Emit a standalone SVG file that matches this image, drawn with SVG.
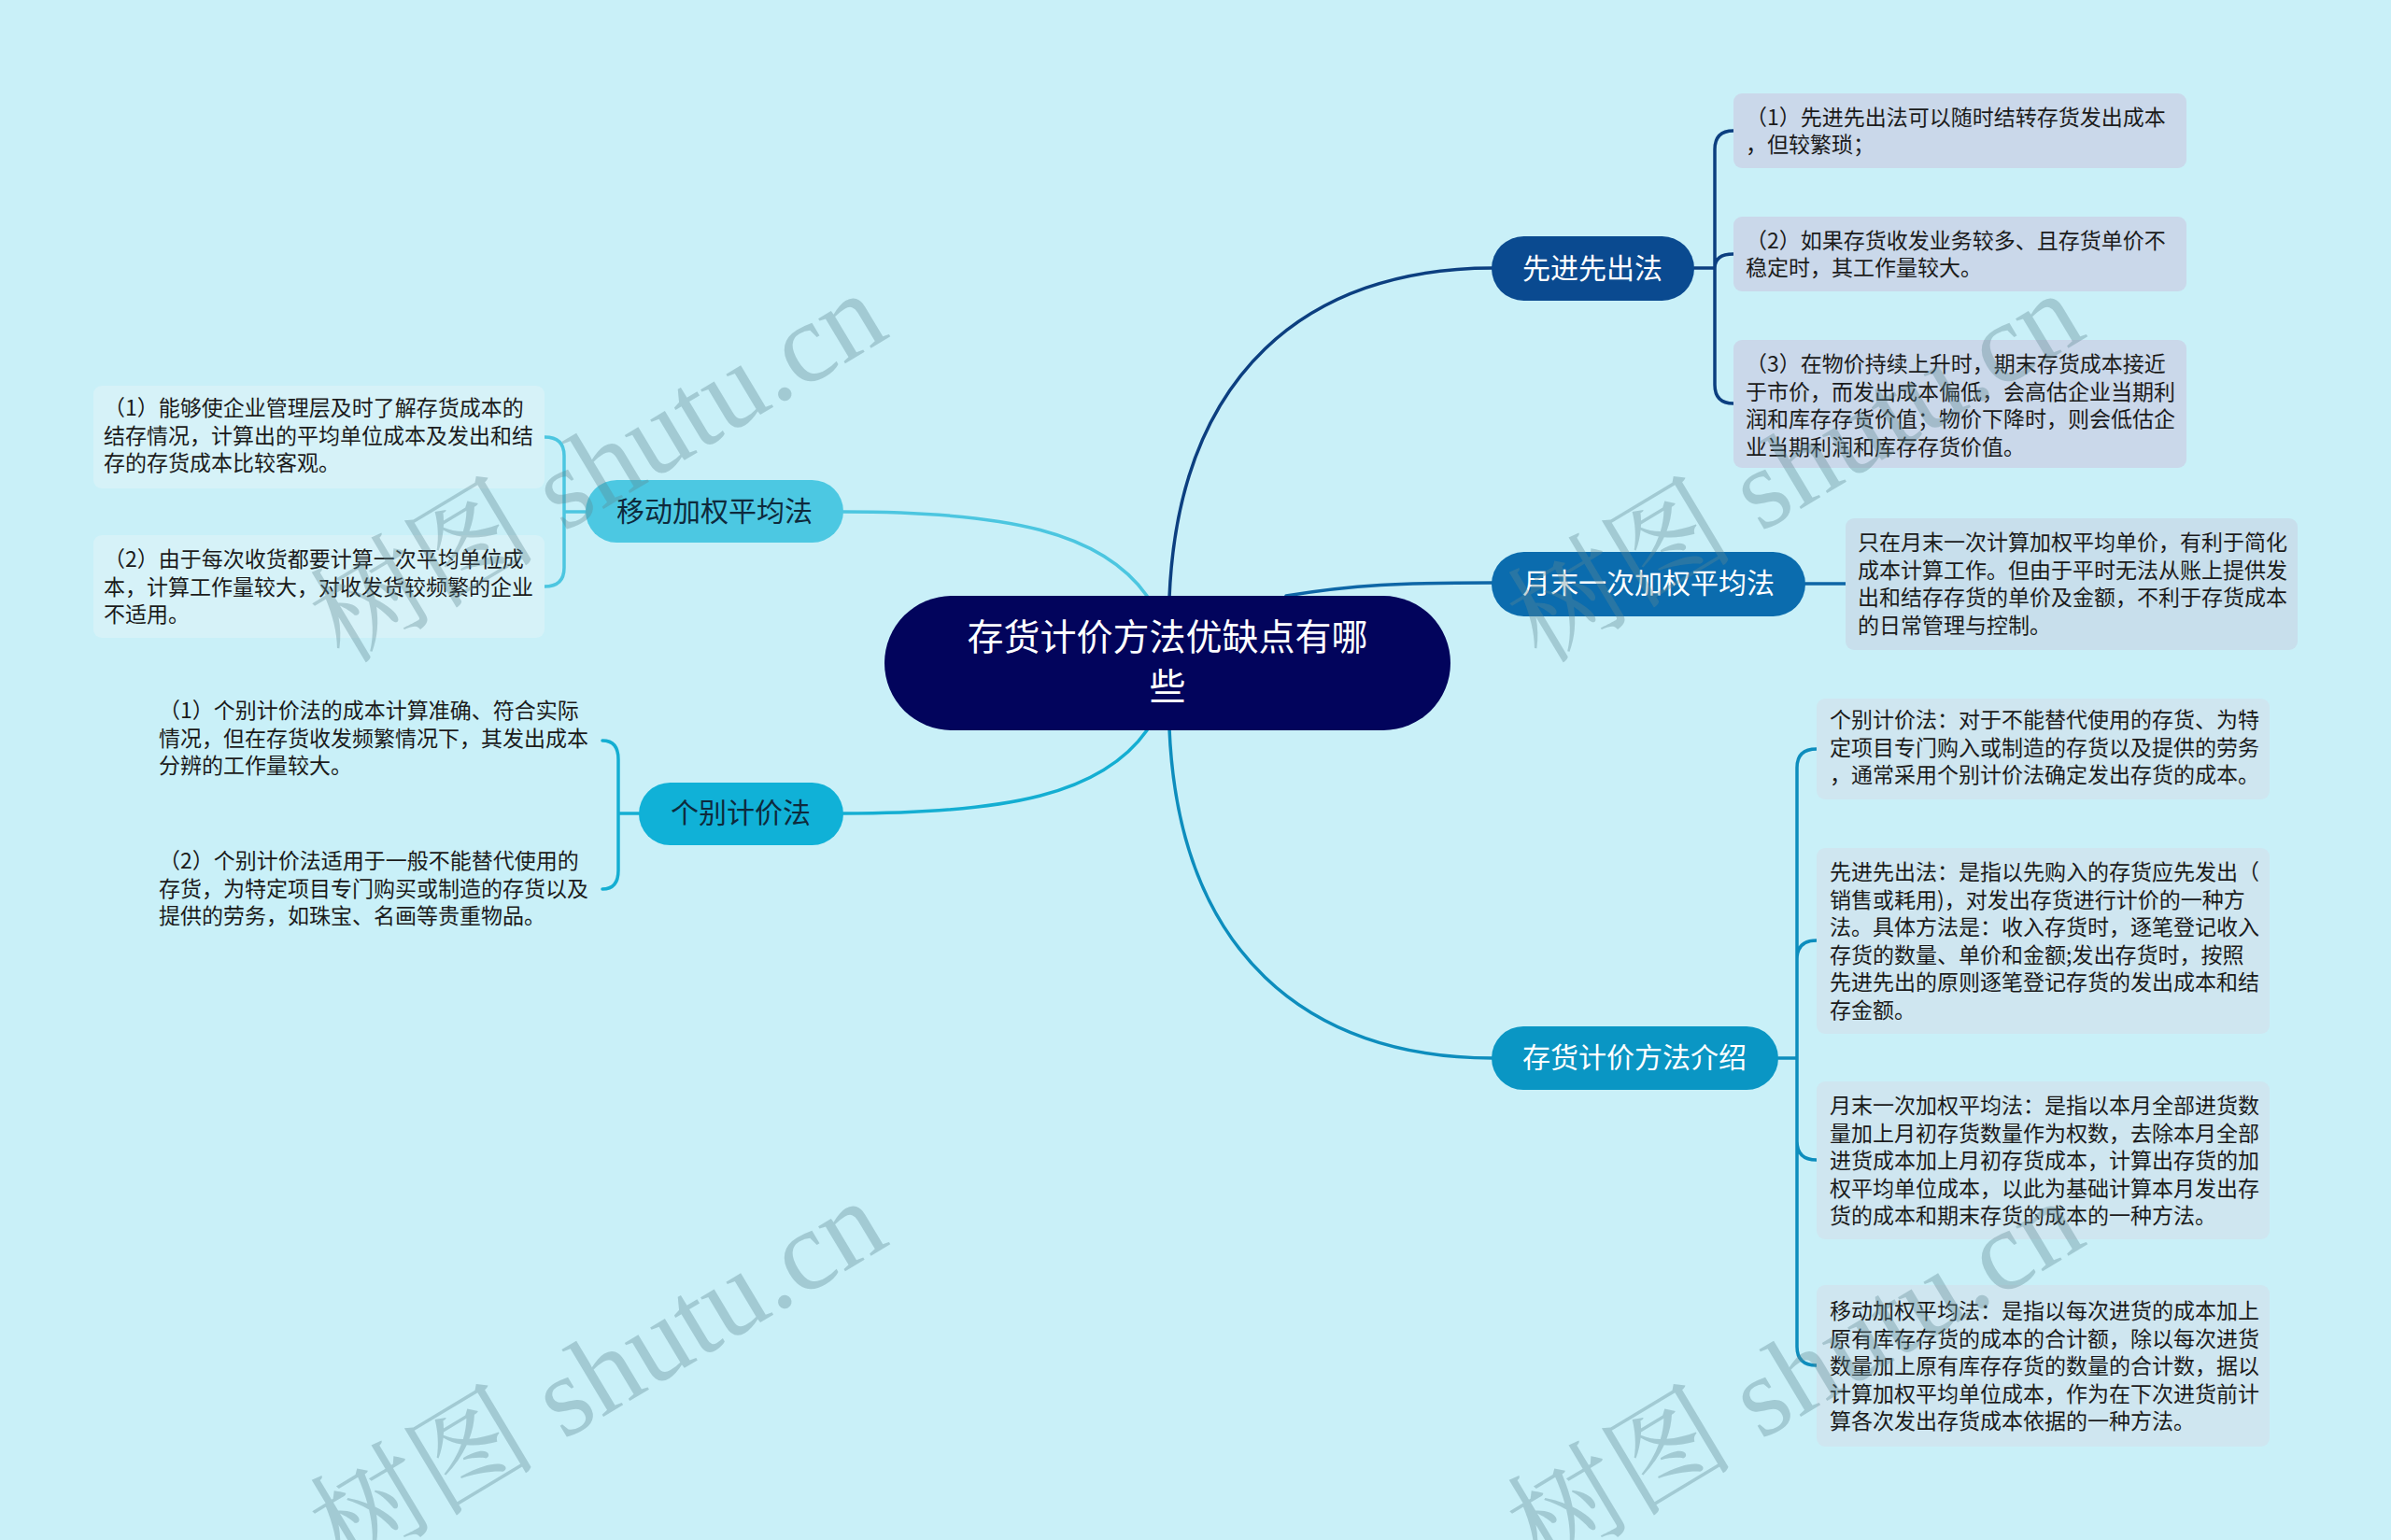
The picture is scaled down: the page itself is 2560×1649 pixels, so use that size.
<svg xmlns="http://www.w3.org/2000/svg" width="2560" height="1649" viewBox="0 0 2560 1649">
<style>
text{font-family:"Noto Sans CJK SC","Noto Sans",sans-serif;}
.leaf{font-size:23px;fill:#1b1b1b;}
.nt{font-size:30px;text-anchor:middle;}
.w{fill:#ffffff;}
.d{fill:#0e2a3c;}
.c{fill:none;stroke-width:3.5;stroke-linecap:round;}
.wm{font-family:"Liberation Serif","Noto Serif CJK SC","Noto Sans CJK SC",serif;font-size:122px;fill:#5d8792;fill-opacity:0.36;}
</style>
<rect x="0" y="0" width="2560" height="1649" fill="#c9f0f8"/>

<g id="connectors">
<path class="c" stroke="#0c3f80" d="M1252,640 C1262,400 1400,287 1598,287"/>
<path class="c" stroke="#0e66a6" d="M1377,638 C1450,626 1500,624 1598,624"/>
<path class="c" stroke="#0d8dbd" d="M1252,780 C1262,1020 1400,1133 1598,1133"/>
<path class="c" stroke="#4cc6e0" d="M1228,638 C1180,570 1080,548 903,548"/>
<path class="c" stroke="#14aed2" d="M1228,782 C1180,850 1080,871 903,871"/>
<path class="c" stroke="#0c3f80" d="M1814,287 H1836 M1836,287 V160 Q1836,140 1856,140 M1836,287 Q1836,272 1856,272 M1836,287 V412 Q1836,432 1856,432"/>
<path class="c" stroke="#0e66a6" d="M1933,625 H1976"/>
<path class="c" stroke="#0d8dbd" d="M1904,1133 H1924 M1924,1133 V822 Q1924,802 1945,802 M1924,1133 V1027 Q1924,1007 1945,1007 M1924,1133 V1222 Q1924,1242 1945,1242 M1924,1133 V1442 Q1924,1462 1945,1462"/>
<path class="c" stroke="#4cc6e0" d="M627,548 H604 M604,548 V488 Q604,468 583,468 M604,548 V608 Q604,628 583,628"/>
<path class="c" stroke="#14aed2" d="M684,871 H662 M662,871 V813 Q662,793 645,793 M662,871 V932 Q662,952 645,952"/>
</g>

<g id="root">
<rect x="947" y="638" width="606" height="144" rx="72" fill="#02045c"/>
<text x="1250" y="696" text-anchor="middle" font-size="39" class="w">存货计价方法优缺点有哪</text>
<text x="1250" y="749" text-anchor="middle" font-size="39" class="w">些</text>
</g>

<g id="n-fifo">
<rect x="1597" y="253" width="217" height="69" rx="34.5" fill="#0a4a90"/>
<text x="1705" y="298" class="nt w">先进先出法</text>
</g>
<g id="n-monthly">
<rect x="1597" y="591" width="336" height="69" rx="34.5" fill="#0b6cae"/>
<text x="1765" y="635" class="nt w">月末一次加权平均法</text>
</g>
<g id="n-intro">
<rect x="1597" y="1099" width="307" height="68" rx="34" fill="#0a96c4"/>
<text x="1750" y="1143" class="nt w">存货计价方法介绍</text>
</g>
<g id="n-moving">
<rect x="627" y="514" width="276" height="67" rx="33.5" fill="#4cc8e2"/>
<text x="765" y="558" class="nt d">移动加权平均法</text>
</g>
<g id="n-specific">
<rect x="684" y="838" width="219" height="67" rx="33.5" fill="#10b1d7"/>
<text x="793" y="881" class="nt d">个别计价法</text>
</g>

<g id="fifo-1">
<rect x="1856" y="100" width="485" height="80" rx="9" fill="#cad8ea"/>
<text class="leaf" x="1869" y="134">（1）先进先出法可以随时结转存货发出成本</text>
<text class="leaf" x="1869" y="163">，但较繁琐；</text>
</g>
<g id="fifo-2">
<rect x="1856" y="232" width="485" height="80" rx="9" fill="#cad8ea"/>
<text class="leaf" x="1869" y="266">（2）如果存货收发业务较多、且存货单价不</text>
<text class="leaf" x="1869" y="295">稳定时，其工作量较大。</text>
</g>
<g id="fifo-3">
<rect x="1856" y="364" width="485" height="137" rx="9" fill="#cad8ea"/>
<text class="leaf" x="1869" y="398">（3）在物价持续上升时，期末存货成本接近</text>
<text class="leaf" x="1869" y="427.5">于市价，而发出成本偏低，会高估企业当期利</text>
<text class="leaf" x="1869" y="457">润和库存存货价值；物价下降时，则会低估企</text>
<text class="leaf" x="1869" y="486.5">业当期利润和库存存货价值。</text>
</g>

<g id="monthly-1">
<rect x="1976" y="555" width="484" height="141" rx="9" fill="#c8dfec"/>
<text class="leaf" x="1989" y="589">只在月末一次计算加权平均单价，有利于简化</text>
<text class="leaf" x="1989" y="618.5">成本计算工作。但由于平时无法从账上提供发</text>
<text class="leaf" x="1989" y="648">出和结存存货的单价及金额，不利于存货成本</text>
<text class="leaf" x="1989" y="677.5">的日常管理与控制。</text>
</g>

<g id="intro-a">
<rect x="1945" y="748" width="485" height="108" rx="9" fill="#cfe6f0"/>
<text class="leaf" x="1959" y="779">个别计价法：对于不能替代使用的存货、为特</text>
<text class="leaf" x="1959" y="808.5">定项目专门购入或制造的存货以及提供的劳务</text>
<text class="leaf" x="1959" y="838">，通常采用个别计价法确定发出存货的成本。</text>
</g>
<g id="intro-b">
<rect x="1945" y="908" width="485" height="199" rx="9" fill="#cfe6f0"/>
<text class="leaf" x="1959" y="942">先进先出法：是指以先购入的存货应先发出（</text>
<text class="leaf" x="1959" y="971.5">销售或耗用)，对发出存货进行计价的一种方</text>
<text class="leaf" x="1959" y="1001">法。具体方法是：收入存货时，逐笔登记收入</text>
<text class="leaf" x="1959" y="1030.5">存货的数量、单价和金额;发出存货时，按照</text>
<text class="leaf" x="1959" y="1060">先进先出的原则逐笔登记存货的发出成本和结</text>
<text class="leaf" x="1959" y="1089.5">存金额。</text>
</g>
<g id="intro-c">
<rect x="1945" y="1158" width="485" height="169" rx="9" fill="#cfe6f0"/>
<text class="leaf" x="1959" y="1192">月末一次加权平均法：是指以本月全部进货数</text>
<text class="leaf" x="1959" y="1221.5">量加上月初存货数量作为权数，去除本月全部</text>
<text class="leaf" x="1959" y="1251">进货成本加上月初存货成本，计算出存货的加</text>
<text class="leaf" x="1959" y="1280.5">权平均单位成本，以此为基础计算本月发出存</text>
<text class="leaf" x="1959" y="1310">货的成本和期末存货的成本的一种方法。</text>
</g>
<g id="intro-d">
<rect x="1945" y="1376" width="485" height="173" rx="9" fill="#cfe6f0"/>
<text class="leaf" x="1959" y="1412">移动加权平均法：是指以每次进货的成本加上</text>
<text class="leaf" x="1959" y="1441.5">原有库存存货的成本的合计额，除以每次进货</text>
<text class="leaf" x="1959" y="1471">数量加上原有库存存货的数量的合计数，据以</text>
<text class="leaf" x="1959" y="1500.5">计算加权平均单位成本，作为在下次进货前计</text>
<text class="leaf" x="1959" y="1530">算各次发出存货成本依据的一种方法。</text>
</g>

<g id="moving-1">
<rect x="100" y="413" width="483" height="110" rx="9" fill="#d6f2f8"/>
<text class="leaf" x="111" y="445">（1）能够使企业管理层及时了解存货成本的</text>
<text class="leaf" x="111" y="474.5">结存情况，计算出的平均单位成本及发出和结</text>
<text class="leaf" x="111" y="504">存的存货成本比较客观。</text>
</g>
<g id="moving-2">
<rect x="100" y="573" width="483" height="110" rx="9" fill="#d6f2f8"/>
<text class="leaf" x="111" y="607">（2）由于每次收货都要计算一次平均单位成</text>
<text class="leaf" x="111" y="636.5">本，计算工作量较大，对收发货较频繁的企业</text>
<text class="leaf" x="111" y="666">不适用。</text>
</g>

<g id="specific-1">
<text class="leaf" x="170" y="769">（1）个别计价法的成本计算准确、符合实际</text>
<text class="leaf" x="170" y="798.5">情况，但在存货收发频繁情况下，其发出成本</text>
<text class="leaf" x="170" y="828">分辨的工作量较大。</text>
</g>
<g id="specific-2">
<text class="leaf" x="170" y="930">（2）个别计价法适用于一般不能替代使用的</text>
<text class="leaf" x="170" y="959.5">存货，为特定项目专门购买或制造的存货以及</text>
<text class="leaf" x="170" y="989">提供的劳务，如珠宝、名画等贵重物品。</text>
</g>

<g id="watermarks">
<text class="wm" transform="translate(368,712) rotate(-31)">树图 shutu.cn</text>
<text class="wm" transform="translate(1650,712) rotate(-31)">树图 shutu.cn</text>
<text class="wm" transform="translate(368,1684) rotate(-31)">树图 shutu.cn</text>
<text class="wm" transform="translate(1650,1684) rotate(-31)">树图 shutu.cn</text>
</g>
</svg>
